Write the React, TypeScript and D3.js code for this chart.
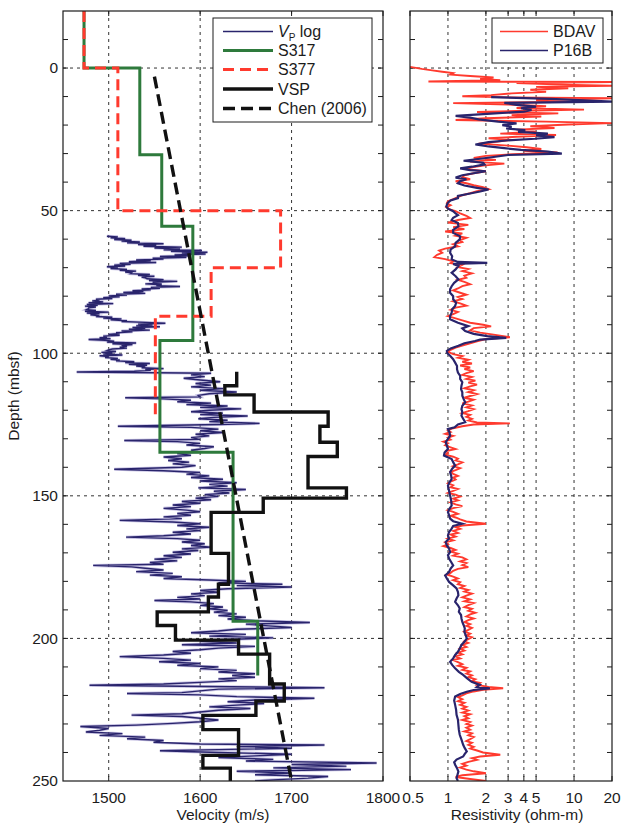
import React from 'react';
import * as d3 from 'd3';

// ---------- data ----------
const depthLabels = [0, 50, 100, 150, 200, 250];
const depthGrid = [0, 50, 100, 150, 200];
const velocityTicks = [1500, 1600, 1700, 1800];
const velocityGrid = [1500, 1600, 1700];
const resTicks = [0.5, 1, 2, 3, 4, 5, 10, 20];
const resGrid = [1, 2, 3, 4, 5, 10];

// [top depth, bottom depth, velocity]
const s317Layers: [number, number, number][] = [
  [-20, 0, 1473], [0, 30.4, 1534], [30.4, 55.5, 1558], [55.5, 95.5, 1592],
  [95.5, 134.7, 1556], [134.7, 194, 1636], [194, 213, 1663],
];
const s377Layers: [number, number, number][] = [
  [-20, 0, 1473], [0, 50, 1510], [50, 70, 1688], [70, 87, 1612], [87, 122, 1551],
];
const vspLayers: [number, number, number][] = [
  [106.5, 111.4, 1640], [111.4, 114.6, 1627], [114.6, 120.6, 1659], [120.6, 125.6, 1740],
  [125.6, 131.2, 1731], [131.2, 136.2, 1750], [136.2, 147.2, 1718], [147.2, 150.8, 1760],
  [150.8, 155.8, 1669], [155.8, 170.2, 1612], [170.2, 181, 1631], [181, 185.5, 1620],
  [185.5, 190.7, 1609], [190.7, 195.5, 1553], [195.5, 200.6, 1573], [200.6, 205.5, 1642],
  [205.5, 216, 1676], [216, 222, 1692], [222, 227, 1661], [227, 232, 1603],
  [232, 241, 1642], [241, 245.5, 1603], [245.5, 250, 1633],
];
// [depth, velocity]
const chen2006: [number, number][] = [[3, 1550], [250, 1700]];

// [depth, velocity]
const vpLog: [number, number][] = [
  [59.0, 1498], [59.2, 1510], [59.5, 1502], [59.8, 1518], [60.1, 1506], [60.4, 1525], [60.7, 1514],
  [61.0, 1534], [61.3, 1520], [61.6, 1560], [61.9, 1532], [62.2, 1552], [62.5, 1538], [62.8, 1580],
  [63.1, 1550], [63.4, 1578], [63.7, 1560], [64.0, 1602], [64.3, 1568], [64.6, 1608], [64.9, 1580],
  [65.2, 1606], [65.5, 1572], [65.8, 1588], [66.1, 1556], [66.4, 1585], [66.7, 1548], [67.0, 1560],
  [67.3, 1530], [67.6, 1546], [67.9, 1522], [68.2, 1552], [68.5, 1512], [68.8, 1524], [69.1, 1506],
  [69.4, 1518], [69.7, 1498], [70.0, 1510], [70.3, 1502], [70.6, 1520], [70.9, 1512], [71.2, 1530],
  [71.5, 1518], [71.8, 1525], [72.1, 1524], [72.4, 1545], [72.7, 1532], [73.0, 1550], [73.3, 1536],
  [73.6, 1540], [73.9, 1542], [74.2, 1560], [74.5, 1544], [74.8, 1575], [75.1, 1548], [75.4, 1558],
  [75.7, 1540], [76.0, 1558], [76.3, 1552], [76.6, 1578], [76.9, 1546], [77.2, 1556], [77.5, 1536],
  [77.8, 1546], [78.1, 1526], [78.4, 1538], [78.7, 1516], [79.0, 1540], [79.3, 1508], [79.6, 1520],
  [79.9, 1500], [80.2, 1512], [80.5, 1494], [80.8, 1504], [81.1, 1486], [81.4, 1490], [81.7, 1482],
  [82.0, 1494], [82.3, 1478], [82.6, 1505], [82.9, 1476], [83.2, 1488], [83.5, 1474], [83.8, 1486],
  [84.1, 1478], [84.4, 1478], [84.7, 1476], [85.0, 1486], [85.3, 1474], [85.6, 1500], [85.9, 1476],
  [86.2, 1490], [86.5, 1480], [86.8, 1488], [87.1, 1486], [87.4, 1504], [87.7, 1494], [88.0, 1514],
  [88.3, 1502], [88.6, 1520], [88.9, 1514], [89.2, 1540], [89.5, 1562], [89.8, 1532], [90.1, 1548],
  [90.4, 1530], [90.7, 1556], [91.0, 1526], [91.3, 1540], [91.6, 1522], [91.9, 1545], [92.2, 1514],
  [92.5, 1526], [92.8, 1508], [93.1, 1512], [93.4, 1500], [93.7, 1512], [94.0, 1494], [94.3, 1498],
  [94.6, 1490], [94.9, 1502], [95.2, 1478], [95.5, 1496], [95.8, 1506], [96.1, 1498], [96.4, 1530],
  [96.7, 1504], [97.0, 1526], [97.3, 1514], [97.6, 1520], [97.9, 1512], [98.2, 1520], [98.5, 1504],
  [98.8, 1500], [99.1, 1498], [99.4, 1508], [99.7, 1492], [100.0, 1504], [100.3, 1494], [100.6, 1515],
  [100.9, 1490], [101.2, 1500], [101.5, 1496], [101.8, 1510], [102.1, 1502], [102.4, 1512], [102.7, 1508],
  [103.0, 1528], [103.3, 1518], [103.6, 1545], [103.9, 1522], [104.2, 1542], [104.5, 1530], [104.8, 1540],
  [105.1, 1536], [105.4, 1560], [105.7, 1540], [106.0, 1546], [106.3, 1528],
  [106.6, 1465], [107.0, 1612], [107.6, 1590], [108.2, 1605], [108.8, 1582],
  [109.4, 1600], [110.0, 1622], [110.6, 1595], [111.2, 1612], [111.8, 1590], [112.4, 1625], [113.0, 1600],
  [113.6, 1640], [114.2, 1610], [114.8, 1598], [115.3, 1600], [115.6, 1518], [116.0, 1560], [116.5, 1590],
  [117.0, 1575], [117.5, 1612], [118.0, 1585], [118.5, 1630], [119.0, 1600], [119.5, 1645], [120.0, 1610],
  [120.5, 1590], [121.0, 1625], [121.5, 1600], [122.0, 1652], [122.5, 1615], [123.0, 1598], [123.5, 1630],
  [124.0, 1610], [124.6, 1665], [125.0, 1620], [125.6, 1510], [126.0, 1590], [126.6, 1620], [127.2, 1600],
  [127.8, 1625], [128.4, 1595], [129.0, 1610], [129.6, 1590], [130.2, 1600], [130.6, 1517], [131.0, 1575],
  [131.6, 1600], [132.2, 1585], [132.8, 1615], [133.4, 1605], [134.0, 1590], [134.6, 1600], [135.2, 1575],
  [135.8, 1590], [136.4, 1560], [137.0, 1580], [137.6, 1565], [138.2, 1588], [138.8, 1570], [139.4, 1595],
  [140.0, 1580], [140.7, 1506], [141.2, 1560], [141.8, 1600], [142.4, 1585], [143.0, 1610], [143.6, 1590],
  [144.2, 1625], [144.8, 1600], [145.4, 1640], [146.0, 1610], [146.6, 1630], [147.2, 1598], [147.8, 1650],
  [148.4, 1615], [149.0, 1632], [149.6, 1605], [150.2, 1620], [150.8, 1595], [151.4, 1612], [152.0, 1580],
  [152.6, 1600], [153.2, 1570], [153.8, 1590], [154.4, 1560], [155.0, 1585], [155.6, 1600], [156.2, 1575],
  [156.8, 1590], [157.4, 1560], [158.0, 1580], [158.6, 1512], [159.2, 1570], [159.8, 1600], [160.4, 1575],
  [161.0, 1610], [161.6, 1585], [162.2, 1600], [162.8, 1570], [163.4, 1590], [164.0, 1560], [164.5, 1519],
  [165.0, 1575], [165.6, 1600], [166.2, 1580], [166.8, 1605], [167.4, 1590], [168.0, 1612], [168.6, 1580],
  [169.2, 1598], [169.8, 1570], [170.4, 1590], [171.0, 1560], [171.6, 1580], [172.2, 1550], [172.8, 1575],
  [173.4, 1545], [174.0, 1560], [174.4, 1483], [174.9, 1525], [175.4, 1540], [176.0, 1560], [176.6, 1530],
  [177.2, 1570], [177.8, 1545], [178.4, 1580], [179.0, 1560], [179.5, 1610], [180.0, 1650], [180.5, 1620],
  [181.0, 1690], [181.5, 1640], [182.0, 1700], [182.6, 1630], [183.2, 1600], [183.8, 1620], [184.4, 1590],
  [185.0, 1605], [185.6, 1575], [186.2, 1600], [186.7, 1550], [187.2, 1590], [187.8, 1615], [188.4, 1600],
  [189.0, 1625], [189.6, 1610], [190.2, 1630], [190.8, 1615], [191.4, 1640], [192.0, 1620], [192.6, 1650],
  [193.2, 1630], [193.8, 1660], [194.4, 1720], [195.0, 1650], [195.6, 1675], [196.2, 1700], [196.8, 1640],
  [197.4, 1620], [198.0, 1590], [198.6, 1650], [199.2, 1610], [199.8, 1680], [200.4, 1630], [201.0, 1600],
  [201.6, 1640], [202.2, 1580], [202.8, 1660], [203.4, 1620], [204.0, 1600], [204.6, 1570], [205.2, 1590],
  [205.8, 1560], [206.4, 1512], [207.0, 1560], [207.6, 1590], [208.2, 1555], [208.8, 1600], [209.4, 1575],
  [210.0, 1620], [210.6, 1600], [211.2, 1640], [211.8, 1620], [212.4, 1660], [213.0, 1635], [213.6, 1660],
  [214.2, 1620], [214.8, 1640], [215.4, 1600], [216.0, 1560], [216.4, 1479], [216.8, 1580], [217.3, 1736],
  [217.8, 1620], [218.4, 1600], [219.0, 1580], [219.3, 1520], [219.8, 1600], [220.4, 1640], [221.0, 1725],
  [221.6, 1660], [222.2, 1630], [222.8, 1670], [223.4, 1640], [224.0, 1610], [224.6, 1655], [225.2, 1620],
  [225.8, 1600], [226.4, 1580], [226.9, 1525], [227.4, 1580], [228.0, 1600], [228.6, 1620], [229.2, 1600],
  [229.8, 1570], [230.4, 1530], [230.9, 1469], [231.6, 1500], [232.2, 1490], [232.8, 1475], [233.4, 1515],
  [234.0, 1490], [234.6, 1540], [235.2, 1520], [235.8, 1560], [236.4, 1549], [237.0, 1600], [237.4, 1736],
  [237.9, 1640], [238.5, 1700], [239.0, 1620], [239.4, 1556], [240.0, 1620], [240.6, 1700], [241.2, 1660],
  [241.8, 1620], [242.4, 1680], [243.0, 1650], [243.7, 1793], [244.2, 1700], [244.8, 1760], [245.4, 1680],
  [246.0, 1765], [246.6, 1640], [247.2, 1700], [247.8, 1660], [248.4, 1740], [249.0, 1718], [249.6, 1680],
  [250.0, 1660],
];

// [depth, resistivity]
const bdav: [number, number][] = [
  [-0.4, 0.5], [0.3, 0.62], [0.8, 0.75], [1.3, 0.9], [1.8, 1.1], [2.3, 1.05], [2.8, 1.5], [3.3, 2.3],
  [3.8, 1.8], [4.3, 2.6], [4.7, 0.7], [4.9, 20], [5.3, 3.5], [5.8, 8], [6.2, 20], [6.6, 5], [7.1, 9],
  [7.6, 4.5], [8.3, 6], [8.9, 3.2], [9.5, 2.2], [9.9, 1.3], [10.3, 3], [10.6, 20], [11.2, 5], [11.8, 10.5],
  [12.3, 1.1], [12.8, 3], [13.4, 6], [14.0, 3.5], [14.6, 12], [15.0, 4], [15.4, 1.7], [15.9, 7.5],
  [16.5, 3.2], [17.0, 5.5], [17.6, 2], [18.2, 1.15], [18.8, 6], [19.3, 20], [19.8, 9], [20.4, 4.5],
  [21.0, 7], [21.6, 3.5], [22.3, 5], [23.0, 2.6], [23.5, 7.2], [24.1, 3.5], [24.6, 2.1], [25.2, 3.2],
  [25.8, 2.5], [26.5, 1.75], [27.2, 3], [27.8, 4.2], [28.4, 5.5], [29.0, 4], [29.6, 7.4], [30.2, 3.3],
  [30.8, 2], [31.5, 1.6], [32.2, 2.4], [32.8, 1.5], [33.5, 2.8], [34.2, 1.9], [34.9, 1.5], [35.5, 1.4],
  [36.2, 2], [36.9, 1.6], [37.6, 1.35], [38.3, 1.3], [39.0, 1.5], [39.7, 1.15], [40.4, 1.4], [41.1, 1.6],
  [41.8, 1.9], [42.5, 2.1], [43.2, 1.7], [43.9, 1.5], [44.6, 1.3], [45.3, 1.2], [46.0, 1.1], [46.7, 1.0],
  [47.4, 0.98], [48.1, 1.05], [48.8, 0.97], [49.5, 1.02], [50.2, 1.15], [51.0, 1.25], [51.8, 1.4],
  [52.6, 1.5], [53.3, 1.2], [54.2, 1.0], [55.0, 1.45], [55.8, 1.1], [56.5, 1.35], [57.3, 0.95], [58.0, 1.3],
  [58.8, 1.15], [59.5, 1.4], [60.3, 1.25], [61.0, 1.3], [61.8, 1.1], [62.5, 1.2], [63.3, 0.95], [64.0, 0.85],
  [64.8, 0.9], [65.5, 0.82], [66.3, 0.78], [67.0, 0.95], [67.8, 1.1], [68.4, 1.05], [69.0, 1.3], [69.8, 1.2],
  [70.5, 1.45], [71.2, 1.3], [72.0, 1.55], [72.8, 1.35], [73.5, 1.4], [74.3, 1.2], [75.0, 1.35], [75.8, 1.5],
  [76.5, 1.3], [77.3, 1.2], [78.0, 1.1], [78.8, 1.25], [79.5, 1.4], [80.3, 1.2], [81.0, 1.3], [81.8, 1.1],
  [82.5, 1.25], [83.3, 1.4], [84.0, 1.15], [84.8, 1.05], [85.5, 1.2], [86.3, 1.1], [87.0, 1.0], [87.8, 1.15],
  [88.5, 1.3], [89.3, 1.5], [90.0, 1.9], [90.6, 2.2], [91.2, 1.6], [92.0, 1.5], [92.8, 1.8], [93.5, 2.3],
  [94.4, 3.1], [95.0, 2.0], [95.8, 1.7], [96.5, 1.5], [97.3, 1.3], [98.0, 1.15], [98.8, 1.05], [99.5, 1.0],
  [100.3, 1.1], [101.0, 1.3], [101.6, 1.2], [102.3, 1.45], [103.0, 1.3], [103.6, 1.55], [104.3, 1.25],
  [105.0, 1.5], [105.6, 1.35], [106.3, 1.6], [107.0, 1.4], [107.6, 1.3], [108.3, 1.55], [109.0, 1.4],
  [109.6, 1.65], [110.3, 1.45], [111.0, 1.7], [111.6, 1.5], [112.3, 1.35], [113.0, 1.6], [113.6, 1.45],
  [114.3, 1.7], [115.0, 1.5], [115.6, 1.35], [116.3, 1.6], [117.0, 1.45], [117.6, 1.3], [118.3, 1.55],
  [119.0, 1.4], [119.6, 1.6], [120.3, 1.45], [121.0, 1.3], [121.6, 1.5], [122.3, 1.4], [123.0, 1.55],
  [123.6, 1.45], [124.3, 1.7], [124.6, 3.1], [125.0, 1.6], [125.6, 1.3], [126.3, 1.1], [127.0, 1.0],
  [127.6, 1.05], [128.3, 0.95], [129.0, 1.1], [129.6, 1.0], [130.3, 1.05], [131.0, 0.92], [131.6, 1.0],
  [132.3, 0.95], [133.0, 1.05], [133.6, 1.15], [134.3, 0.97], [135.0, 1.0], [135.6, 0.95], [136.3, 1.1],
  [137.0, 1.2], [137.6, 1.15], [138.3, 1.3], [139.0, 1.2], [139.6, 1.1], [140.3, 1.25], [141.0, 1.15],
  [141.6, 1.05], [142.3, 1.1], [143.0, 1.2], [143.6, 1.1], [144.3, 1.15], [145.0, 1.05], [145.6, 1.0],
  [146.3, 1.1], [147.0, 1.05], [147.6, 1.2], [148.3, 1.1], [149.0, 1.0], [149.6, 1.15], [150.3, 1.25],
  [151.0, 1.1], [151.6, 1.2], [152.3, 1.05], [153.0, 1.15], [153.6, 1.3], [154.3, 1.1], [155.0, 1.0],
  [155.6, 1.1], [156.3, 1.2], [157.0, 1.05], [157.6, 1.15], [158.3, 1.25], [159.0, 1.4], [159.8, 2.0],
  [160.4, 1.3], [161.0, 1.15], [161.6, 1.25], [162.3, 1.1], [163.0, 1.2], [163.6, 1.05], [164.3, 1.15],
  [165.0, 1.0], [165.6, 1.1], [166.3, 0.95], [167.0, 1.0], [167.6, 0.92], [168.3, 1.05], [169.0, 1.15],
  [169.6, 1.05], [170.3, 1.2], [171.0, 1.1], [171.6, 1.3], [172.3, 1.4], [173.0, 1.25], [173.6, 1.4],
  [174.3, 1.3], [175.0, 1.45], [175.6, 1.2], [176.3, 1.1], [177.0, 1.05], [177.6, 0.98], [178.3, 1.1],
  [179.0, 1.2], [179.6, 1.1], [180.3, 1.25], [181.0, 1.2], [181.6, 1.35], [182.3, 1.25], [183.0, 1.45],
  [183.6, 1.35], [184.3, 1.55], [185.0, 1.4], [185.6, 1.3], [186.3, 1.5], [187.0, 1.35], [187.6, 1.6],
  [188.3, 1.45], [189.0, 1.35], [189.6, 1.55], [190.3, 1.45], [191.0, 1.65], [191.6, 1.5], [192.3, 1.4],
  [193.0, 1.6], [193.6, 1.45], [194.3, 1.35], [195.0, 1.5], [195.6, 1.4], [196.3, 1.55], [197.0, 1.45],
  [197.6, 1.35], [198.3, 1.5], [199.0, 1.4], [199.6, 1.55], [200.3, 1.45], [201.0, 1.35], [201.6, 1.45],
  [202.3, 1.3], [203.0, 1.4], [203.6, 1.25], [204.3, 1.35], [205.0, 1.2], [205.6, 1.3], [206.3, 1.15],
  [207.0, 1.25], [207.6, 1.1], [208.3, 1.2], [209.0, 1.3], [209.6, 1.2], [210.3, 1.4], [211.0, 1.3],
  [211.6, 1.5], [212.3, 1.4], [213.0, 1.55], [213.6, 1.45], [214.3, 1.65], [215.0, 1.55], [215.6, 1.8],
  [216.3, 1.7], [217.0, 2.1], [217.5, 2.74], [218.0, 1.9], [218.6, 1.6], [219.3, 1.4], [220.0, 1.3],
  [220.6, 1.2], [221.3, 1.3], [222.0, 1.2], [222.6, 1.35], [223.3, 1.25], [224.0, 1.4], [224.6, 1.3],
  [225.3, 1.45], [226.0, 1.3], [226.6, 1.5], [227.3, 1.35], [228.0, 1.45], [228.6, 1.3], [229.3, 1.5],
  [230.0, 1.4], [230.6, 1.55], [231.3, 1.4], [232.0, 1.5], [232.6, 1.35], [233.3, 1.55], [234.0, 1.45],
  [234.6, 1.6], [235.3, 1.5], [236.0, 1.4], [236.6, 1.55], [237.3, 1.45], [238.0, 1.6], [238.6, 1.5],
  [239.3, 1.7], [240.0, 1.9], [240.8, 2.6], [241.4, 1.8], [242.0, 1.55], [242.6, 1.7], [243.3, 1.45],
  [244.0, 1.3], [244.6, 1.4], [245.3, 1.25], [246.0, 1.4], [246.6, 1.6], [247.3, 2.0], [248.0, 1.3],
  [248.6, 1.15], [249.3, 1.5], [250.0, 2.0],
];

// [depth, resistivity]
const p16b: [number, number][] = [
  [10.2, 2.2], [10.8, 6.5], [11.8, 20], [12.2, 2.8], [12.9, 3.5], [13.5, 5], [14.1, 3.8], [14.7, 4.6],
  [15.3, 4], [16.0, 2.2], [16.8, 1.15], [17.4, 1.5], [18.0, 1.75], [18.8, 2.5], [19.4, 3.5], [20.0, 2.7],
  [20.6, 3.2], [21.2, 2.9], [21.8, 4.1], [22.4, 3.6], [23.0, 6.2], [23.6, 5], [24.2, 7], [24.8, 4.9],
  [25.4, 2.9], [26.0, 2.1], [26.8, 1.65], [27.5, 2.1], [28.1, 2.8], [28.7, 3.8], [29.3, 6.2], [30.0, 8],
  [30.5, 3], [31.2, 2.3], [31.8, 1.8], [32.5, 1.33], [33.2, 1.9], [33.8, 1.95], [34.6, 1.55], [35.2, 1.25],
  [35.8, 1.5], [36.2, 2.0], [36.9, 1.6], [37.6, 1.3], [38.4, 1.15], [39.0, 1.4], [39.7, 1.25], [40.4, 1.2],
  [41.2, 1.35], [42.0, 1.7], [42.6, 2.1], [43.3, 1.8], [44.0, 1.5], [44.8, 1.2], [45.6, 1.2], [46.4, 1.05],
  [47.2, 1.0], [48.0, 0.98], [48.6, 0.97], [49.3, 1.0], [50.2, 1.1], [51.0, 1.15], [51.6, 1.2], [52.5, 1.1],
  [53.3, 1.07], [54.3, 1.2], [55.5, 1.21], [56.7, 1.1], [57.8, 1.1], [59.0, 1.25], [60.1, 1.24], [61.3, 1.15],
  [62.5, 1.14], [63.6, 1.05], [64.8, 1.04], [66.0, 1.08], [67.1, 1.07], [68.0, 1.2], [68.3, 2.05], [68.7, 1.1],
  [69.4, 1.21], [70.6, 1.15], [71.8, 1.07], [73.0, 1.15], [74.1, 1.21], [75.3, 1.12], [76.5, 1.07],
  [77.6, 1.04], [78.8, 1.04], [80.0, 1.1], [81.1, 1.1], [82.3, 1.16], [83.4, 1.14], [84.6, 1.08], [85.8, 1.07],
  [87.0, 1.04], [88.1, 1.04], [89.3, 1.2], [90.5, 1.45], [91.3, 1.3], [92.2, 1.37], [93.2, 1.6], [94.0, 2.05],
  [94.6, 2.9], [95.2, 1.8], [95.7, 1.64], [96.5, 1.35], [97.4, 1.21], [98.3, 1.05], [99.2, 0.98], [100.0, 0.99],
  [100.9, 1.04], [102.1, 1.1], [103.3, 1.14], [104.5, 1.18], [105.6, 1.18], [106.8, 1.2], [107.9, 1.25],
  [109.0, 1.25], [110.2, 1.3], [111.4, 1.28], [112.6, 1.27], [113.7, 1.3], [114.9, 1.3], [116.0, 1.33],
  [117.2, 1.37], [118.4, 1.3], [119.6, 1.28], [120.7, 1.3], [121.9, 1.28], [123.0, 1.32], [124.2, 1.37],
  [125.0, 1.2], [126.0, 1.13], [126.6, 1.0], [127.8, 1.03], [128.9, 1.04], [130.0, 1.0], [131.2, 0.96],
  [132.4, 0.98], [133.6, 1.0], [134.8, 0.94], [135.9, 0.93], [137.1, 1.07], [138.2, 1.1], [139.4, 1.14],
  [140.5, 1.08], [141.7, 1.04], [142.9, 1.06], [144.1, 1.07], [145.2, 1.03], [146.4, 1.0], [148.2, 1.02],
  [149.9, 1.04], [151.6, 1.06], [153.4, 1.07], [154.5, 1.03], [155.7, 1.0], [156.8, 1.02], [158.0, 1.04],
  [158.9, 1.1], [159.8, 1.3], [160.6, 1.1], [161.5, 1.07], [162.7, 1.02], [163.9, 1.0], [165.0, 1.02],
  [166.2, 0.96], [167.4, 0.98], [168.5, 1.02], [169.7, 1.04], [170.8, 1.0], [172.0, 1.02], [173.2, 1.06],
  [174.4, 1.1], [175.5, 1.05], [176.7, 1.02], [177.9, 0.95], [179.0, 0.98], [180.2, 1.02], [181.4, 1.1],
  [182.5, 1.17], [183.7, 1.2], [184.9, 1.21], [186.0, 1.17], [187.2, 1.14], [188.4, 1.2], [189.5, 1.24],
  [190.7, 1.22], [191.8, 1.27], [193.0, 1.28], [194.2, 1.3], [195.3, 1.33], [196.5, 1.36], [197.7, 1.35],
  [198.8, 1.38], [200.0, 1.41], [201.2, 1.35], [202.3, 1.28], [203.5, 1.24], [204.7, 1.2], [205.8, 1.14],
  [207.0, 1.1], [208.2, 1.04], [209.3, 1.08], [210.5, 1.14], [211.7, 1.22], [212.8, 1.32], [214.0, 1.42],
  [215.2, 1.54], [216.3, 1.79], [217.0, 1.7], [217.5, 2.15], [218.1, 1.6], [218.7, 1.41], [219.5, 1.25],
  [220.4, 1.14], [221.8, 1.12], [223.3, 1.14], [225.0, 1.16], [226.8, 1.17], [228.5, 1.2], [230.3, 1.21],
  [232.0, 1.22], [233.8, 1.24], [235.5, 1.28], [237.3, 1.32], [238.5, 1.36], [239.6, 1.41], [240.5, 1.36],
  [241.4, 1.32], [242.5, 1.17], [243.4, 1.12], [244.3, 1.14], [245.5, 1.18], [246.7, 1.21], [247.8, 1.19],
  [249.0, 1.17], [250.0, 1.2],
];

// ---------- layout ----------
const W = 622;
const H = 827;
const plotTop = 11;
const plotBottom = 781;
const vLeft = 63;
const vRight = 383;
const rLeft = 410;
const rRight = 612;

const FONT = '"Liberation Sans", Arial, Helvetica, sans-serif';
const INK = '#1c1c1c';
const NAVY = '#29246c';
const GREEN = '#2e7a3c';
const RED = '#ff3a2e';

const yScale = d3.scaleLinear().domain([-20, 250]).range([plotTop, plotBottom]);
const vScale = d3.scaleLinear().domain([1450, 1800]).range([vLeft, vRight]);
const rScale = d3.scaleLog().domain([0.5, 20]).range([rLeft, rRight]);

const minorDepths = d3.range(-10, 250, 10);

const stepPoints = (layers: [number, number, number][]): [number, number][] =>
  layers.flatMap(([t, b, v]) => [[t, v], [b, v]] as [number, number][]);

const velLine = d3
  .line<[number, number]>()
  .x((d) => vScale(d[1]))
  .y((d) => yScale(d[0]));

const resLine = d3
  .line<[number, number]>()
  .x((d) => rScale(d[1]))
  .y((d) => yScale(d[0]));

function PanelFrame({
  x0,
  x1,
  xGrid,
  xTicks,
}: {
  x0: number;
  x1: number;
  xGrid: number[];
  xTicks: number[];
}) {
  const tick = 5;
  return (
    <g>
      {/* grid */}
      {xGrid.map((x) => (
        <line key={'gx' + x} x1={x} x2={x} y1={plotTop} y2={plotBottom}
          stroke="#333" strokeWidth={1} strokeDasharray="3,4" />
      ))}
      {depthGrid.map((d) => (
        <line key={'gy' + d} x1={x0} x2={x1} y1={yScale(d)} y2={yScale(d)}
          stroke="#333" strokeWidth={1} strokeDasharray="3,4" />
      ))}
      {/* depth ticks, both sides */}
      {minorDepths.map((d) => (
        <g key={'t' + d}>
          <line x1={x0} x2={x0 + tick} y1={yScale(d)} y2={yScale(d)} stroke={INK} />
          <line x1={x1} x2={x1 - tick} y1={yScale(d)} y2={yScale(d)} stroke={INK} />
        </g>
      ))}
      {/* x ticks, top and bottom */}
      {xTicks.map((x) => (
        <g key={'xt' + x}>
          <line x1={x} x2={x} y1={plotTop} y2={plotTop + tick} stroke={INK} />
          <line x1={x} x2={x} y1={plotBottom} y2={plotBottom - tick} stroke={INK} />
        </g>
      ))}
    </g>
  );
}

export default function App() {
  const vTickPx = velocityTicks.map((v) => vScale(v));
  const rTickPx = resTicks.map((r) => rScale(r));

  return (
    <svg
      width={W}
      height={H}
      viewBox={`0 0 ${W} ${H}`}
      style={{ position: 'absolute', left: 0, top: 0, background: '#fff' }}
      fontFamily={FONT}
    >
      <defs>
        <clipPath id="clipV">
          <rect x={vLeft} y={plotTop} width={vRight - vLeft} height={plotBottom - plotTop} />
        </clipPath>
        <clipPath id="clipR">
          <rect x={rLeft} y={plotTop} width={rRight - rLeft} height={plotBottom - plotTop} />
        </clipPath>
      </defs>
      <rect x={0} y={0} width={W} height={H} fill="#fff" />

      {/* ===== velocity panel ===== */}
      <PanelFrame
        x0={vLeft}
        x1={vRight}
        xGrid={velocityGrid.map((v) => vScale(v))}
        xTicks={vTickPx}
      />
      <g clipPath="url(#clipV)" fill="none" strokeLinejoin="miter">
        <path d={velLine(vpLog) || ''} stroke="#8f86c8" strokeWidth={3} opacity={0.5} />
        <path d={velLine(vpLog) || ''} stroke={NAVY} strokeWidth={1.4} />
        <path d={velLine(stepPoints(s317Layers)) || ''} stroke={GREEN} strokeWidth={3} />
        <path d={velLine(stepPoints(s377Layers)) || ''} stroke={RED} strokeWidth={3}
          strokeDasharray="11,6" />
        <path d={velLine(stepPoints(vspLayers)) || ''} stroke="#111" strokeWidth={3.4} />
        <path d={velLine(chen2006) || ''} stroke="#111" strokeWidth={3.4} strokeDasharray="12,6" />
      </g>
      <rect x={vLeft} y={plotTop} width={vRight - vLeft} height={plotBottom - plotTop}
        fill="none" stroke={INK} strokeWidth={1.2} />

      {/* y labels */}
      {depthLabels.map((d) => (
        <text key={'yl' + d} x={vLeft - 5} y={yScale(d)} dy="0.35em" textAnchor="end"
          fontSize={15.5} fill={INK}>
          {d}
        </text>
      ))}
      {velocityTicks.map((v) => (
        <text key={'vl' + v} x={vScale(v)} y={803} textAnchor="middle" fontSize={15.5} fill={INK}>
          {v}
        </text>
      ))}
      <text x={(vLeft + vRight) / 2} y={820} textAnchor="middle" fontSize={15.5} fill={INK}>
        Velocity (m/s)
      </text>
      <text transform={`translate(19, ${(plotTop + plotBottom) / 2}) rotate(-90)`}
        textAnchor="middle" fontSize={15.5} fill={INK}>
        Depth (mbsf)
      </text>

      {/* velocity legend */}
      <g>
        <rect x={213} y={18} width={159} height={104} fill="#fff" stroke={INK} strokeWidth={1} />
        {[
          { y: 31.5, stroke: NAVY, w: 1.6, dash: undefined },
          { y: 50.5, stroke: GREEN, w: 3, dash: undefined },
          { y: 69.5, stroke: RED, w: 3, dash: '11,6' },
          { y: 89, stroke: '#111', w: 3.4, dash: undefined },
          { y: 108.5, stroke: '#111', w: 3.4, dash: '12,6' },
        ].map((e, i) => (
          <line key={'lg' + i} x1={223} x2={273} y1={e.y} y2={e.y} stroke={e.stroke}
            strokeWidth={e.w} strokeDasharray={e.dash} />
        ))}
        <text x={278} y={31.5} dy="0.35em" fontSize={16} fill={INK}>
          <tspan fontStyle="italic">V</tspan>
          <tspan fontSize={10} dy={4}>P</tspan>
          <tspan dy={-4}> log</tspan>
        </text>
        <text x={278} y={50.5} dy="0.35em" fontSize={16} fill={INK}>S317</text>
        <text x={278} y={69.5} dy="0.35em" fontSize={16} fill={INK}>S377</text>
        <text x={278} y={89} dy="0.35em" fontSize={16} fill={INK}>VSP</text>
        <text x={278} y={108.5} dy="0.35em" fontSize={16} fill={INK}>Chen (2006)</text>
      </g>

      {/* ===== resistivity panel ===== */}
      <PanelFrame
        x0={rLeft}
        x1={rRight}
        xGrid={resGrid.map((r) => rScale(r))}
        xTicks={rTickPx}
      />
      <g clipPath="url(#clipR)" fill="none">
        <path d={resLine(bdav) || ''} stroke={RED} strokeWidth={1.9} />
        <path d={resLine(p16b) || ''} stroke={NAVY} strokeWidth={2.2} />
      </g>
      <rect x={rLeft} y={plotTop} width={rRight - rLeft} height={plotBottom - plotTop}
        fill="none" stroke={INK} strokeWidth={1.2} />
      {resTicks.map((r) => (
        <text key={'rl' + r} x={rScale(r) + (r === 0.5 ? 3 : 0)} y={803} textAnchor="middle"
          fontSize={15.5} fill={INK}>
          {r}
        </text>
      ))}
      <text x={517} y={820} textAnchor="middle" fontSize={15.5} fill={INK}>
        Resistivity (ohm-m)
      </text>

      {/* resistivity legend */}
      <g>
        <rect x={492} y={18} width={111} height={45} fill="#fff" stroke={INK} strokeWidth={1} />
        <line x1={500} x2={548} y1={31.5} y2={31.5} stroke={RED} strokeWidth={1.6} />
        <line x1={500} x2={548} y1={50.5} y2={50.5} stroke={NAVY} strokeWidth={1.6} />
        <text x={553} y={31.5} dy="0.35em" fontSize={16} fill={INK}>BDAV</text>
        <text x={553} y={50.5} dy="0.35em" fontSize={16} fill={INK}>P16B</text>
      </g>
    </svg>
  );
}
